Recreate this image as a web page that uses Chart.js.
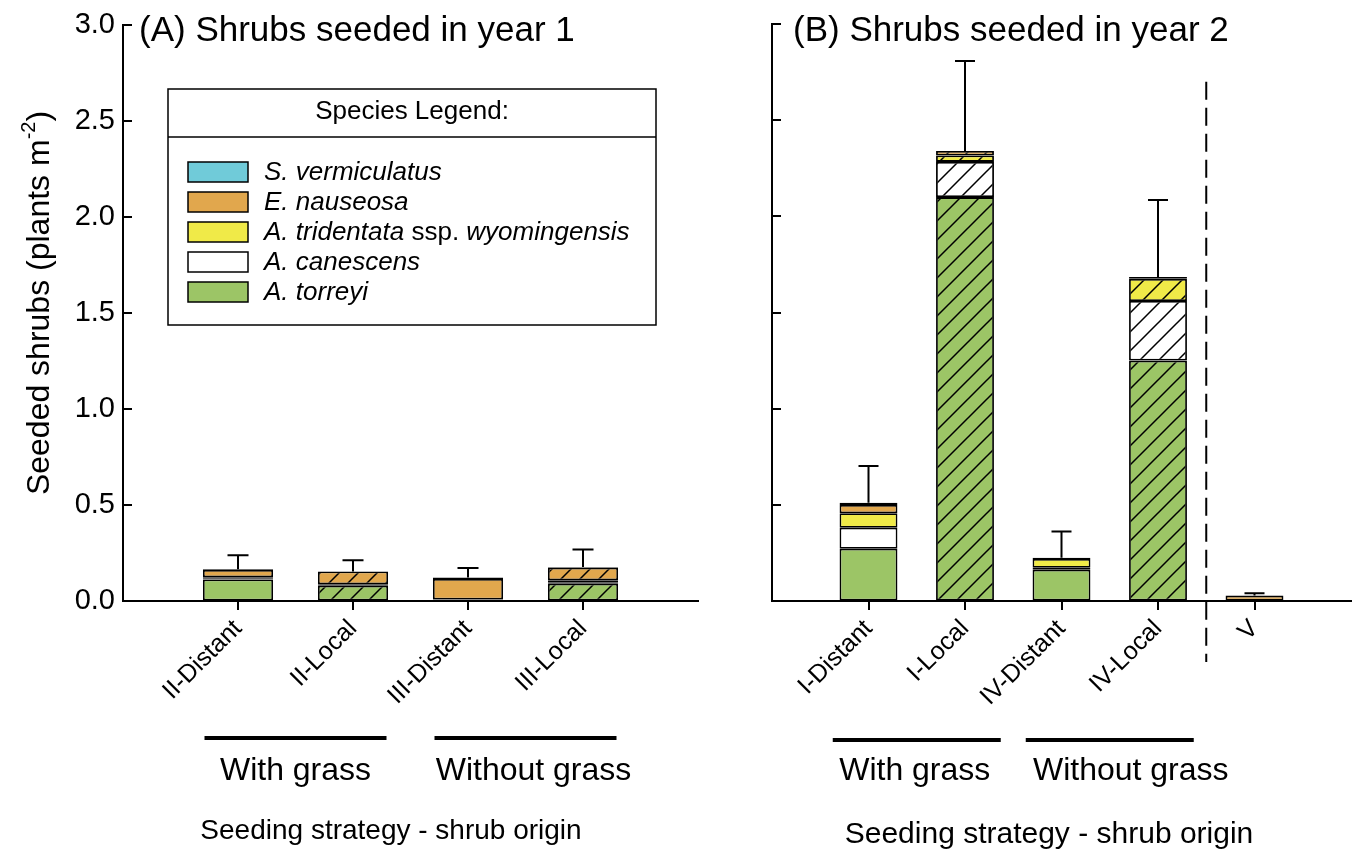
<!DOCTYPE html>
<html><head><meta charset="utf-8">
<script src="https://cdn.jsdelivr.net/npm/chart.js@4.4.1/dist/chart.umd.min.js"></script>
<style>
html,body{margin:0;padding:0;background:#fff;width:1357px;height:856px;overflow:hidden}
#wa{position:absolute;left:0;top:0;width:740px;height:856px}
#wb{position:absolute;left:740px;top:0;width:617px;height:856px}
</style></head><body>
<div id="wa"><canvas id="ca"></canvas></div>
<div id="wb"><canvas id="cb"></canvas></div>
<script>
// ---- species (stack order bottom -> top) ----
const speciesNames = ['A. torreyi', 'A. canescens', 'A. tridentata ssp. wyomingensis', 'E. nauseosa', 'S. vermiculatus'];
const speciesColors = ['#9CC566', '#FFFFFF', '#F0EA48', '#E1A74D', '#70CBD9'];

// ---- panel A: shrubs seeded in year 1 ----
const categoriesA = ['II-Distant', 'II-Local', 'III-Distant', 'III-Local'];
const torreyiA    = [0.112, 0.080, 0.005, 0.090];
const canescensA  = [0.006, 0.004, 0.000, 0.008];
const tridentataA = [0.006, 0.003, 0.003, 0.010];
const nauseosaA   = [0.038, 0.067, 0.107, 0.066];
const vermicA     = [0.003, 0.000, 0.007, 0.003];
const errorA      = [0.073, 0.058, 0.050, 0.091];
const localA      = [false, true, false, true];
const groupsA     = ['With grass', 'Without grass'];

// ---- panel B: shrubs seeded in year 2 ----
const categoriesB = ['I-Distant', 'I-Local', 'IV-Distant', 'IV-Local', 'V'];
const torreyiB    = [0.272, 2.100, 0.163, 1.250, 0.000];
const canescensB  = [0.109, 0.183, 0.010, 0.310, 0.000];
const tridentataB = [0.075, 0.033, 0.045, 0.115, 0.000];
const nauseosaB   = [0.043, 0.024, 0.005, 0.010, 0.028];
const vermicB     = [0.012, 0.000, 0.002, 0.000, 0.000];
const errorB      = [0.191, 0.468, 0.137, 0.400, 0.012];
const localB      = [false, true, false, true, false];
const groupsB     = ['With grass', 'Without grass'];

const yTicks = [0, 0.5, 1.0, 1.5, 2.0, 2.5, 3.0];

const FONT = '"Liberation Sans", Arial, Helvetica, sans-serif';
Chart.defaults.font.family = FONT;
Chart.defaults.color = '#000';

function hatchPattern(color) {
  const s = 19;
  const c = document.createElement('canvas');
  c.width = s; c.height = s;
  const g = c.getContext('2d');
  g.fillStyle = color; g.fillRect(0, 0, s, s);
  g.strokeStyle = '#000'; g.lineWidth = 1.5;
  g.beginPath();
  g.moveTo(-2, s + 2); g.lineTo(s + 2, -2);
  g.moveTo(-2, 2); g.lineTo(2, -2);
  g.moveTo(s - 2, s + 2); g.lineTo(s + 2, s - 2);
  g.stroke();
  return g.createPattern(c, 'repeat');
}

function buildDatasets(series, local, barPct) {
  return series.map((vals, k) => ({
    label: speciesNames[k],
    data: vals.map((v, i) => ({ x: i + 1, y: v === 0 ? null : v })),
    backgroundColor: vals.map((v, i) => local[i] ? hatchPattern(speciesColors[k]) : speciesColors[k]),
    borderColor: '#000',
    borderWidth: 1.8,
    borderSkipped: false,
    barPercentage: barPct,
    categoryPercentage: 1,
    stack: 's'
  }));
}

// error bars
const errorBarPlugin = {
  id: 'errbars',
  afterDatasetsDraw(chart, args, opts) {
    const { ctx, scales: { x, y } } = chart;
    const sets = chart.data.datasets;
    ctx.save();
    ctx.strokeStyle = '#000'; ctx.lineWidth = 2;
    opts.errors.forEach((e, i) => {
      let total = 0;
      sets.forEach(ds => { const p = ds.data[i]; if (p && p.y) total += p.y; });
      const px = x.getPixelForValue(i + 1);
      const y0 = y.getPixelForValue(total);
      const y1 = y.getPixelForValue(total + e);
      ctx.beginPath();
      ctx.moveTo(px, y0); ctx.lineTo(px, y1);
      ctx.moveTo(px - opts.cap / 2, y1); ctx.lineTo(px + opts.cap / 2, y1);
      ctx.stroke();
    });
    ctx.restore();
  }
};

// inward y ticks
const inwardTicks = {
  id: 'inward',
  afterDraw(chart) {
    const { ctx, scales: { y }, chartArea } = chart;
    ctx.save();
    ctx.strokeStyle = '#000'; ctx.lineWidth = 2;
    yTicks.forEach(v => {
      const py = Math.round(y.getPixelForValue(v));
      ctx.beginPath();
      ctx.moveTo(chartArea.left, py); ctx.lineTo(chartArea.left + 9, py);
      ctx.stroke();
    });
    ctx.restore();
  }
};

// texts, group lines, legend, dashed separator
const decor = {
  id: 'decor',
  afterDraw(chart, args, o) {
    const { ctx, scales: { x, y }, chartArea } = chart;
    ctx.save();
    ctx.fillStyle = '#000'; ctx.strokeStyle = '#000';
    // panel title
    ctx.font = '35px ' + FONT;
    ctx.textAlign = 'left'; ctx.textBaseline = 'alphabetic';
    ctx.fillText(o.title, o.titleX, 41);
    // groups
    o.groups.forEach((gname, gi) => {
      const c = x.getPixelForValue(2 * gi + 1.5);
      ctx.lineWidth = 4;
      ctx.beginPath();
      ctx.moveTo(c - o.groupHalf, o.groupLineY); ctx.lineTo(c + o.groupHalf, o.groupLineY);
      ctx.stroke();
      ctx.font = '32px ' + FONT;
      ctx.textAlign = 'center'; ctx.textBaseline = 'middle';
      ctx.fillText(gname, c + o.groupLabelDx[gi], o.groupLabelY);
    });
    // x axis title
    ctx.font = o.xTitleSize + 'px ' + FONT;
    ctx.textAlign = 'center'; ctx.textBaseline = 'middle';
    ctx.fillText('Seeding strategy - shrub origin', o.xTitleX, o.xTitleY);
    // y axis title
    if (o.yTitle) {
      ctx.save();
      ctx.translate(38, 303);
      ctx.rotate(-Math.PI / 2);
      const main = 'Seeded shrubs (plants m', sup = '-2', end = ')';
      ctx.font = '32px ' + FONT;
      const w1 = ctx.measureText(main).width, w3 = ctx.measureText(end).width;
      ctx.font = '20px ' + FONT;
      const w2 = ctx.measureText(sup).width;
      let sx = -(w1 + w2 + w3) / 2;
      ctx.textAlign = 'left'; ctx.textBaseline = 'alphabetic';
      ctx.font = '32px ' + FONT; ctx.fillText(main, sx, 11);
      ctx.font = '20px ' + FONT; ctx.fillText(sup, sx + w1, -3);
      ctx.font = '32px ' + FONT; ctx.fillText(end, sx + w1 + w2, 11);
      ctx.restore();
    }
    // legend box
    if (o.legend) {
      const L = o.legend;
      ctx.lineWidth = 1.5;
      ctx.fillStyle = '#fff';
      ctx.fillRect(L.x, L.y, L.w, L.h);
      ctx.strokeRect(L.x, L.y, L.w, L.h);
      ctx.beginPath(); ctx.moveTo(L.x, L.y + 48); ctx.lineTo(L.x + L.w, L.y + 48); ctx.stroke();
      ctx.fillStyle = '#000';
      ctx.font = '26px ' + FONT; ctx.textAlign = 'center'; ctx.textBaseline = 'middle';
      ctx.fillText('Species Legend:', L.x + L.w / 2, L.y + 23);
      const order = [4, 3, 2, 1, 0];
      order.forEach((k, r) => {
        const ty = L.y + 73 + r * 30;
        ctx.fillStyle = speciesColors[k];
        ctx.fillRect(L.x + 20, ty, 60, 20);
        ctx.strokeRect(L.x + 20, ty, 60, 20);
        ctx.fillStyle = '#000';
        ctx.textAlign = 'left'; ctx.textBaseline = 'middle';
        let tx = L.x + 96;
        const parts = speciesNames[k].includes(' ssp. ')
          ? [['A. tridentata', true], [' ssp. ', false], ['wyomingensis', true]]
          : [[speciesNames[k], true]];
        parts.forEach(([t, it]) => {
          ctx.font = (it ? 'italic ' : '') + '26px ' + FONT;
          ctx.fillText(t, tx, ty + 11);
          tx += ctx.measureText(t).width;
        });
      });
    }
    // dashed separator
    if (o.dashAt) {
      const px = x.getPixelForValue(o.dashAt);
      ctx.lineWidth = 2; ctx.setLineDash([18, 8]);
      ctx.beginPath();
      ctx.moveTo(px, y.getPixelForValue(2.7)); ctx.lineTo(px, chartArea.bottom + 61);
      ctx.stroke();
    }
    ctx.restore();
  }
};

function makeChart(id, cats, series, local, errs, opts) {
  return new Chart(document.getElementById(id), {
    type: 'bar',
    data: { datasets: buildDatasets(series, local, opts.barPct) },
    plugins: [errorBarPlugin, inwardTicks, decor],
    options: {
      responsive: true, maintainAspectRatio: false, animation: false,
      layout: { padding: { left: 0, right: opts.padRight, top: 24, bottom: 0 } },
      plugins: {
        legend: { display: false }, tooltip: { enabled: false }, title: { display: false },
        errbars: { errors: errs, cap: opts.cap },
        decor: opts.decor
      },
      scales: {
        x: {
          type: 'linear', min: 0, max: opts.xMax, stacked: true, offset: false,
          afterBuildTicks: s => { s.ticks = cats.map((c, i) => ({ value: i + 1 })); },
          afterFit: s => { s.height = 255; },
          ticks: {
            autoSkip: false, minRotation: 45, maxRotation: 45, padding: 4,
            font: { size: 25 }, color: '#000',
            callback: v => cats[Math.round(v) - 1]
          },
          grid: { offset: false, drawOnChartArea: false, drawTicks: true, tickLength: 9, color: '#000', lineWidth: 2 },
          border: { display: true, color: '#000', width: 2 }
        },
        y: {
          min: 0, max: 3, stacked: true,
          afterBuildTicks: s => { s.ticks = yTicks.map(v => ({ value: v })); },
          afterFit: s => { s.width = opts.yWidth; },
          ticks: {
            display: opts.yLabels, padding: 8, font: { size: 29 }, color: '#000',
            callback: v => v.toFixed(1)
          },
          grid: { drawOnChartArea: false, drawTicks: false },
          border: { display: true, color: '#000', width: 2 }
        }
      }
    }
  });
}

makeChart('ca', categoriesA,
  [torreyiA, canescensA, tridentataA, nauseosaA, vermicA], localA, errorA, {
    barPct: 0.61, cap: 21, xMax: 5, padRight: 42, yWidth: 123, yLabels: true,
    decor: {
      title: '(A) Shrubs seeded in year 1', titleX: 139,
      groups: groupsA, groupHalf: 91, groupLineY: 738, groupLabelY: 771, groupLabelDx: [0, 8],
      xTitleX: 391, xTitleY: 831, xTitleSize: 28, yTitle: true,
      legend: { x: 168, y: 89, w: 488, h: 236 }
    }
  });

makeChart('cb', categoriesB,
  [torreyiB, canescensB, tridentataB, nauseosaB, vermicB], localB, errorB, {
    barPct: 0.60, cap: 20, xMax: 6, padRight: 6, yWidth: 32, yLabels: false,
    decor: {
      title: '(B) Shrubs seeded in year 2', titleX: 53,
      groups: groupsB, groupHalf: 84, groupLineY: 740, groupLabelY: 771, groupLabelDx: [-2, 21],
      xTitleX: 309, xTitleY: 835, xTitleSize: 30, yTitle: false,
      dashAt: 4.5
    }
  });
</script>
</body></html>
